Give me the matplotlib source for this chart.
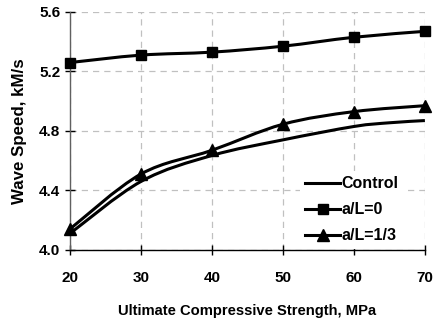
import matplotlib
matplotlib.use("Agg")
import matplotlib.pyplot as plt
from matplotlib.path import Path
from matplotlib.patches import PathPatch
from matplotlib.lines import Line2D
from matplotlib.transforms import IdentityTransform
import numpy as np

plt.rcParams['font.family'] = ['Liberation Sans', 'DejaVu Sans']
plt.rcParams['font.weight'] = 'bold'

strength = [20, 30, 40, 50, 60, 70]
control_x = [20, 30, 40, 50, 60, 65, 70]
control = [4.11, 4.46, 4.635, 4.74, 4.83, 4.855, 4.87]
aL0 = [5.26, 5.31, 5.33, 5.37, 5.43, 5.47]
aL13 = [4.14, 4.51, 4.67, 4.845, 4.93, 4.97]

xticks = [20, 30, 40, 50, 60, 70]
yticks = [4.0, 4.4, 4.8, 5.2, 5.6]

fig = plt.figure(figsize=(4.34, 3.2), dpi=100)
ax = fig.add_axes([0.161, 0.219, 0.818, 0.7435])
ax.set_xlim(20, 70)
ax.set_ylim(4.0, 5.6)


def smooth_path(xs, ys):
    # Excel-style smoothed line: cubic Bezier through data points (in display space)
    pts = ax.transData.transform(np.column_stack([xs, ys]))
    n = len(pts)
    verts = [pts[0]]
    codes = [Path.MOVETO]
    for i in range(n - 1):
        p0 = pts[i - 1] if i > 0 else pts[i]
        p1 = pts[i]
        p2 = pts[i + 1]
        p3 = pts[i + 2] if i + 2 < n else pts[i + 1]
        c1 = p1 + (p2 - p0) / 6.0
        c2 = p2 - (p3 - p1) / 6.0
        verts += [c1, c2, p2]
        codes += [Path.CURVE4] * 3
    return Path(verts, codes)


lw = 2.2
for xs, ys in [(control_x, control), (strength, aL0), (strength, aL13)]:
    patch = PathPatch(smooth_path(xs, ys), facecolor='none', edgecolor='black',
                      lw=lw, zorder=3, capstyle='butt', joinstyle='round')
    patch.set_transform(IdentityTransform())
    ax.add_patch(patch)

ax.plot(strength, aL0, linestyle='none', marker='s', markersize=7.5, color='black', zorder=4, clip_on=False)
ax.plot(strength, aL13, linestyle='none', marker='^', markersize=8.5, color='black', zorder=4, clip_on=False)

ax.set_xticks(xticks)
ax.set_yticks(yticks)
ax.set_yticklabels([f"{v:.1f}" for v in yticks])
ax.grid(True, color='#c0c0c0', linestyle=(0, (5, 4)), linewidth=0.9)
ax.set_axisbelow(True)
for s in ['top', 'right']:
    ax.spines[s].set_visible(False)
ax.spines['left'].set_color('#606060')
ax.spines['bottom'].set_color('black')
ax.spines['left'].set_linewidth(1.0)
ax.spines['bottom'].set_linewidth(1.0)
ax.tick_params(direction='inout', length=7, width=1.0, labelsize=11)
ax.tick_params(axis='x', pad=12)
ax.tick_params(axis='y', pad=3.3)
for lab in ax.get_xticklabels() + ax.get_yticklabels():
    lab.set_fontweight('bold')

ax.set_xlabel('Ultimate Compressive Strength, MPa', fontsize=10.6, fontweight='bold', labelpad=13)
ax.set_ylabel('Wave Speed, kM/s', fontsize=12.2, fontweight='bold', labelpad=9)

handles = [
    Line2D([], [], color='black', lw=lw),
    Line2D([], [], color='black', lw=lw, marker='s', markersize=7.5),
    Line2D([], [], color='black', lw=lw, marker='^', markersize=8.5),
]
leg = ax.legend(handles, ['Control', 'a/L=0', 'a/L=1/3'], loc='lower right',
                bbox_to_anchor=(0.964, -0.03), frameon=True, fancybox=False,
                edgecolor='none', facecolor='white', framealpha=1.0,
                prop={'size': 11.5, 'weight': 'bold'}, handlelength=2.2,
                handletextpad=0.08, labelspacing=0.7, borderpad=0.35)
leg.set_zorder(5)

fig.savefig('out.png', dpi=100)
